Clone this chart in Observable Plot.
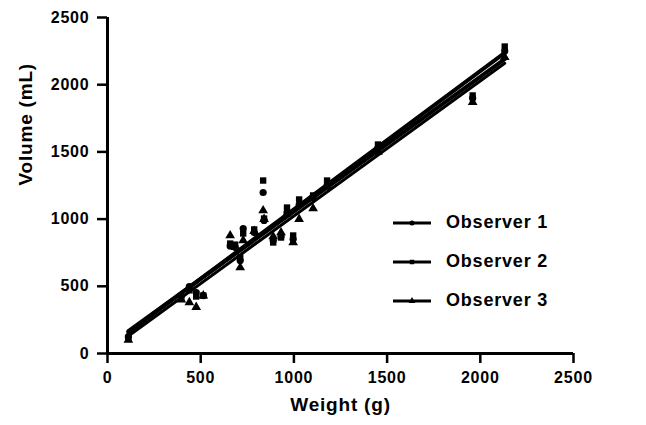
<!DOCTYPE html>
<html>
<head>
<meta charset="utf-8">
<script src="https://cdn.jsdelivr.net/npm/d3@7"></script>
<script src="https://cdn.jsdelivr.net/npm/@observablehq/plot@0.6"></script>
<style>
  html, body { margin: 0; padding: 0; background: #fff; }
  #wrap { position: relative; width: 646px; height: 425px; font-family: "Liberation Sans", Arial, sans-serif; }
  #legend { position: absolute; left: 393px; top: 203px; }
  .item { display: flex; align-items: center; height: 39px; font-weight: bold; font-size: 18px; letter-spacing: 0.8px; color: #000; }
  .item svg { margin-right: 15px; }
</style>
</head>
<body>
<div id="wrap"></div>
<script>
const observers = ["Observer 1", "Observer 2", "Observer 3"];
const weights = [112, 396, 439, 476, 514, 658, 685, 712, 728, 787, 835, 840, 889, 931, 963, 996, 1028, 1103, 1178, 1451, 1959, 2131];
const obs1 = [125, 430, 498, 454, 431, 800, 790, 692, 930, 900, 1198, 990, 840, 870, 1049, 850, 1105, 1160, 1250, 1530, 1900, 2250];
const obs2 = [110, 417, 470, 424, 431, 818, 810, 714, 893, 923, 1287, 1004, 826, 863, 1086, 878, 1146, 1176, 1287, 1555, 1920, 2284];
const obs3 = [100, 400, 380, 345, 430, 878, 790, 640, 841, 910, 1064, 1000, 870, 900, 1040, 826, 1000, 1079, 1240, 1500, 1870, 2205];
const ticks = [0, 500, 1000, 1500, 2000, 2500];
const xLabel = "Weight (g)";
const yLabel = "Volume (mL)";

const series = [obs1, obs2, obs3];
const rows = [];
series.forEach((vals, i) => vals.forEach((v, j) => rows.push({obs: observers[i], w: weights[j], v})));
const lineWidths = [4, 4, 3];

const font = "'Liberation Sans', Arial, sans-serif";
const chart = Plot.plot({
  width: 646, height: 425,
  marginLeft: 107, marginRight: 73, marginTop: 17, marginBottom: 72,
  style: {fontFamily: font, background: "#fff", color: "#000"},
  x: {domain: [0, 2500]},
  y: {domain: [0, 2500]},
  symbol: {domain: observers, range: ["circle", "square", "triangle"]},
  marks: [
    ...observers.map((o, i) => Plot.linearRegressionY(rows.filter(r => r.obs === o), {x: "w", y: "v", ci: 0, stroke: "#000", strokeWidth: lineWidths[i]})),
    Plot.dot(rows, {x: "w", y: "v", symbol: "obs", fill: "#000", stroke: "none", r: 3.6}),
    Plot.axisX({ticks, tickSize: 10, tickPadding: 8, fontSize: 16, fontWeight: "bold", strokeWidth: 2.5, label: null, tickFormat: d => String(d)}),
    Plot.axisY({ticks, tickSize: 10, tickPadding: 8, fontSize: 16, fontWeight: "bold", strokeWidth: 2.5, label: null, tickFormat: d => String(d)}),
    Plot.ruleX([0], {strokeWidth: 3}),
    Plot.ruleY([0], {strokeWidth: 3}),
    Plot.text([xLabel], {text: d => d, frameAnchor: "bottom", dy: 57, fontSize: 19, fontWeight: "bold", fill: "#000"}),
    Plot.text([yLabel], {text: d => d, frameAnchor: "left", dx: -82, rotate: -90, fontSize: 19, fontWeight: "bold", fill: "#000"})
  ]
});
chart.querySelectorAll("text").forEach(t => t.style.letterSpacing = "0.8px");
const wrap = document.getElementById("wrap");
wrap.appendChild(chart);

const legend = document.createElement("div");
legend.id = "legend";
observers.forEach((name, i) => {
  const item = document.createElement("div");
  item.className = "item";
  const sym = d3.symbol().type([d3.symbolCircle, d3.symbolSquare, d3.symbolTriangle][i]).size(20)();
  item.innerHTML = `<svg width="38" height="10" viewBox="0 0 38 10"><line x1="0" x2="38" y1="5" y2="5" stroke="#000" stroke-width="3"/><path d="${sym}" transform="translate(19,5)" fill="#000"/></svg><span>${name}</span>`;
  legend.appendChild(item);
});
wrap.appendChild(legend);
</script>
</body>
</html>
